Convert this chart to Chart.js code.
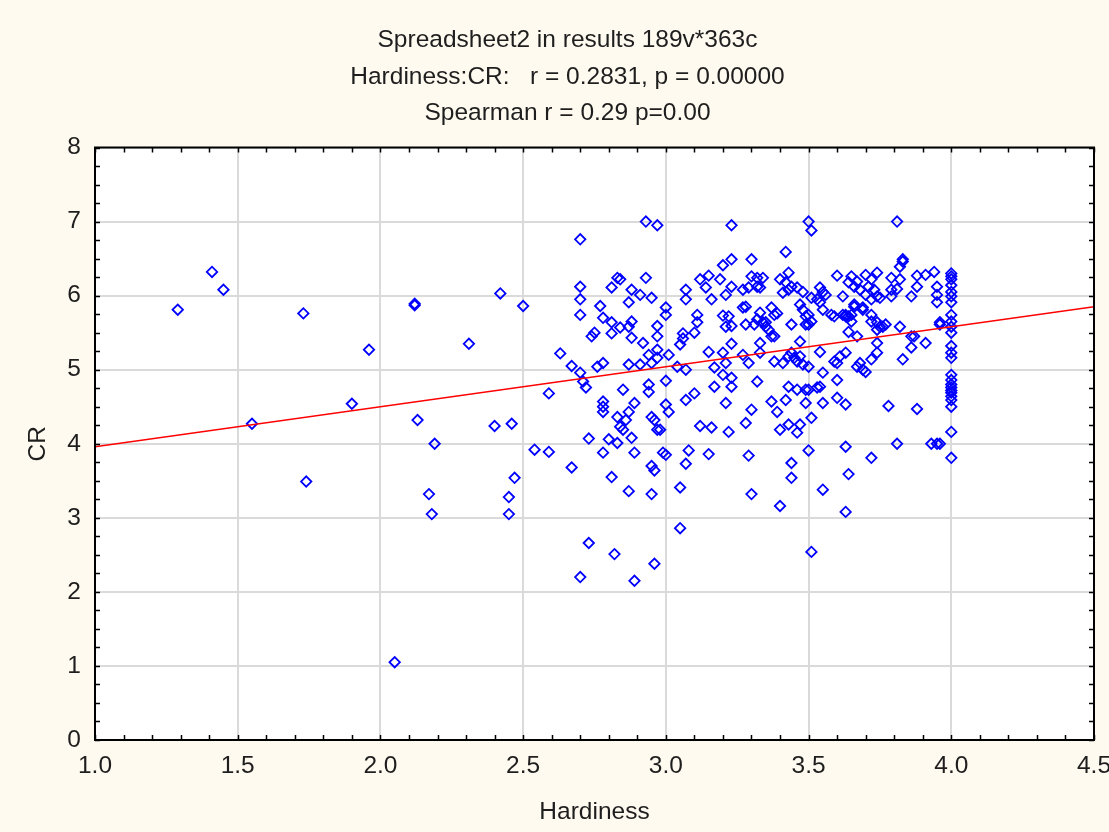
<!DOCTYPE html>
<html>
<head>
<meta charset="utf-8">
<title>Hardiness vs CR</title>
<script src="https://cdn.jsdelivr.net/npm/chart.js@4.4.1/dist/chart.umd.min.js"></script>
<style>
  html, body { margin: 0; padding: 0; background: #fffaf0; }
  #wrap { width: 1109px; height: 832px; }
</style>
</head>
<body>
<div id="wrap"><canvas id="cv" width="1109" height="832"></canvas></div>
<script>
/* Scatter of CR against Hardiness with a fitted line (Statistica-style look). */

const titleLines = [
  "Spreadsheet2 in results 189v*363c",
  "Hardiness:CR:   r = 0.2831, p = 0.00000",
  "Spearman r = 0.29 p=0.00"
];
const xTitle = "Hardiness";
const yTitle = "CR";
const xTicks = [1.0, 1.5, 2.0, 2.5, 3.0, 3.5, 4.0, 4.5];
const yTicks = [0, 1, 2, 3, 4, 5, 6, 7, 8];

// point by point (overlaps are approximate)
const hardness = [
  1.29, 1.41, 1.45, 1.55, 1.73, 1.74, 1.90, 1.96, 2.05, 2.12, 2.12, 2.13, 2.17, 2.18, 2.19, 2.31,
  2.40, 2.42, 2.46, 2.47, 2.45, 2.45, 2.50, 2.54, 2.59, 2.59, 2.63, 2.67, 2.67, 2.70, 2.70, 2.70,
  2.70, 2.70, 2.70, 2.71, 2.72, 2.73, 2.73, 2.74, 2.75, 2.76, 2.77, 2.78, 2.78, 2.78, 2.78, 2.78,
  2.78, 2.80, 2.81, 2.81, 2.81, 2.81, 2.82, 2.83, 2.84, 2.84, 2.83, 2.83, 2.84, 2.85, 2.85, 2.86,
  2.87, 2.87, 2.87, 2.87, 2.87, 2.88, 2.88, 2.88, 2.88, 2.89, 2.89, 2.89, 2.91, 2.91, 2.92, 2.93,
  2.93, 2.94, 2.94, 2.94, 2.95, 2.95, 2.95, 2.95, 2.95, 2.96, 2.96, 2.96, 2.97, 2.97, 2.97, 2.97,
  2.97, 2.97, 2.98, 2.99, 3.00, 3.00, 3.00, 3.00, 3.00, 3.01, 3.01, 3.04, 3.05, 3.05, 3.05, 3.06,
  3.06, 3.07, 3.07, 3.07, 3.07, 3.07, 3.08, 3.10, 3.10, 3.11, 3.11, 3.12, 3.12, 3.14, 3.15, 3.15,
  3.15, 3.16, 3.16, 3.17, 3.17, 3.19, 3.20, 3.20, 3.20, 3.20, 3.21, 3.21, 3.21, 3.21, 3.22, 3.22,
  3.23, 3.23, 3.23, 3.23, 3.23, 3.23, 3.23, 3.27, 3.27, 3.27, 3.28, 3.28, 3.29, 3.29, 3.29, 3.30,
  3.30, 3.30, 3.30, 3.32, 3.34, 3.32, 3.33, 3.28, 3.37, 3.38, 3.39, 3.33, 3.32, 3.34, 3.35, 3.35,
  3.31, 3.37, 3.38, 3.36, 3.43, 3.40, 3.42, 3.44, 3.41, 3.43, 3.46, 3.48, 3.42, 3.50, 3.51, 3.54,
  3.55, 3.56, 3.53, 3.51, 3.54, 3.55, 3.58, 3.59, 3.62, 3.63, 3.65, 3.66, 3.69, 3.47, 3.48, 3.49,
  3.50, 3.51, 3.50, 3.44, 3.49, 3.33, 3.33, 3.38, 3.41, 3.43, 3.44, 3.45, 3.46, 3.47, 3.48, 3.50,
  3.47, 3.54, 3.55, 3.43, 3.32, 3.46, 3.49, 3.50, 3.53, 3.54, 3.60, 3.60, 3.63, 3.49, 3.55, 3.37,
  3.42, 3.39, 3.78, 3.88, 3.40, 3.43, 3.47, 3.46, 3.51, 3.50, 3.63, 3.81, 3.93, 3.95, 3.96, 3.72,
  3.44, 3.44, 3.64, 3.55, 3.40, 3.63, 3.51, 3.60, 3.65, 3.67, 3.70, 3.72, 3.74, 3.64, 3.66, 3.68,
  3.71, 3.73, 3.81, 3.83, 3.83, 3.82, 3.94, 3.91, 3.88, 3.79, 3.82, 3.79, 3.81, 3.88, 3.95, 3.95,
  3.95, 3.96, 3.86, 3.75, 3.74, 3.70, 3.72, 3.79, 3.62, 3.66, 3.69, 3.63, 3.64, 3.65, 3.72, 3.74,
  3.75, 3.76, 3.74, 3.77, 3.72, 3.82, 3.96, 3.64, 3.67, 3.86, 3.87, 3.91, 3.86, 3.83, 3.74, 3.74,
  3.72, 3.63, 3.61, 3.59, 3.60, 3.67, 3.68, 3.70, 3.69,
  4.00, 4.00, 4.00, 4.00, 4.00, 4.00, 4.00, 4.00, 4.00, 4.00, 4.00, 4.00, 4.00, 4.00, 4.00, 4.00,
  4.00, 4.00, 4.00, 4.00, 4.00, 4.00, 4.00, 4.00, 4.00
];
const cr = [
  5.81, 6.32, 6.08, 4.27, 5.76, 3.49, 4.54, 5.27, 1.05, 5.89, 5.87, 4.32, 3.32, 3.05, 4.00, 5.35,
  4.24, 6.03, 4.27, 3.54, 3.28, 3.05, 5.86, 3.92, 3.89, 4.68, 5.22, 5.05, 3.68, 6.76, 6.12, 5.95,
  5.74, 4.96, 2.20, 4.84, 4.76, 2.66, 4.07, 5.45, 5.50, 5.04, 5.86, 5.70, 5.09, 4.57, 4.50, 4.43,
  3.88, 4.06, 6.11, 5.64, 5.49, 3.55, 2.51, 6.24, 6.22, 5.57, 4.36, 4.01, 4.23, 4.19, 4.73, 4.32,
  5.91, 5.58, 5.07, 4.43, 3.36, 6.08, 5.65, 5.43, 4.08, 4.55, 3.88, 2.15, 6.01, 5.07, 5.36, 7.00,
  6.24, 5.20, 4.80, 4.70, 5.97, 5.09, 4.36, 3.70, 3.32, 4.32, 3.64, 2.38, 6.95, 5.59, 5.45, 5.27,
  5.16, 4.19, 4.19, 3.88, 5.84, 5.74, 4.85, 4.53, 3.85, 5.20, 4.43, 5.04, 5.34, 3.41, 2.86, 5.49,
  5.42, 6.08, 5.95, 5.00, 4.59, 3.73, 3.91, 5.50, 4.68, 5.74, 5.64, 6.22, 4.24, 6.11, 6.27, 5.24,
  3.86, 5.95, 4.22, 5.03, 4.77, 6.22, 6.41, 5.73, 5.23, 4.93, 6.01, 5.58, 5.09, 4.55, 5.72, 4.16,
  6.95, 6.49, 6.12, 5.59, 5.35, 4.89, 4.77, 6.08, 5.84, 5.20, 5.61, 4.28, 6.11, 5.09, 3.84, 6.49,
  4.46, 3.32, 6.26, 6.24, 6.24, 6.12, 6.11, 5.85, 5.84, 5.74, 5.76, 5.77, 5.68, 5.64, 5.64, 5.58,
  5.61, 5.45, 5.45, 5.54, 6.31, 6.22, 6.18, 6.12, 6.04, 6.08, 6.11, 6.05, 6.59, 7.00, 6.88, 6.11,
  6.05, 6.01, 5.95, 5.97, 5.91, 5.81, 5.74, 5.72, 5.74, 5.72, 5.74, 5.85, 5.81, 5.88, 5.81, 5.72,
  5.74, 5.65, 5.61, 5.61, 5.61, 5.36, 5.23, 5.11, 5.09, 5.18, 5.23, 5.16, 5.11, 5.18, 5.07, 5.04,
  5.38, 5.24, 4.96, 4.77, 4.84, 4.73, 4.73, 4.73, 4.76, 4.77, 4.86, 4.62, 4.53, 4.55, 4.55, 4.57,
  4.59, 4.43, 4.51, 4.47, 4.19, 4.26, 4.26, 4.15, 4.35, 3.91, 3.96, 4.00, 4.00, 4.00, 4.00, 3.81,
  3.74, 3.54, 3.59, 3.38, 3.16, 3.08, 2.54, 6.27, 6.26, 6.19, 6.28, 6.22, 6.31, 6.18, 6.12, 6.08,
  6.12, 6.08, 7.00, 6.49, 6.46, 6.39, 6.32, 6.28, 6.27, 6.24, 6.22, 6.08, 6.09, 6.12, 6.12, 6.01,
  5.91, 5.61, 5.99, 5.97, 5.99, 6.01, 5.95, 5.99, 5.99, 5.88, 5.84, 5.74, 5.72, 5.65, 5.65, 5.64,
  5.58, 5.58, 5.54, 5.61, 5.74, 5.58, 5.64, 5.51, 5.45, 5.45, 5.45, 5.36, 5.30, 5.14, 5.36, 5.23,
  5.14, 5.23, 5.18, 5.11, 5.09, 5.04, 5.09, 4.97, 5.00,
  6.30, 6.26, 6.22, 6.14, 6.05, 5.99, 5.91, 5.74, 5.65, 5.58, 5.50, 5.32, 5.23, 5.16, 4.93, 4.86,
  4.80, 4.76, 4.72, 4.69, 4.64, 4.59, 4.50, 4.16, 3.81
];

// fitted line end points (x = 1.0 and x = 4.5)
const fitX = [1.0, 4.5];
const fitY = [3.96, 5.85];

const FONT = "'Liberation Sans', Arial, sans-serif";
const INK = "#1e1e1e";
const FS = 24.5;

// white plot area, frame and inward minor ticks on all four sides
const framePlugin = {
  id: "frame",
  beforeDraw(chart) {
    const { ctx, chartArea: a } = chart;
    ctx.save();
    ctx.fillStyle = "#ffffff";
    ctx.fillRect(a.left, a.top, a.right - a.left, a.bottom - a.top);
    ctx.restore();
  },
  afterDraw(chart) {
    const { ctx, chartArea: a, scales } = chart;
    const xs = scales.x, ys = scales.y;
    const tl = 5;
    ctx.save();
    ctx.strokeStyle = "#000";
    ctx.lineWidth = 1.5;
    ctx.beginPath();
    for (let v = xs.min; v <= xs.max + 1e-9; v += 0.1) {
      const px = Math.round(xs.getPixelForValue(v)) + 0.5;
      ctx.moveTo(px, a.bottom); ctx.lineTo(px, a.bottom - tl);
      ctx.moveTo(px, a.top); ctx.lineTo(px, a.top + tl);
    }
    for (let v = ys.min; v <= ys.max + 1e-9; v += 0.25) {
      const py = Math.round(ys.getPixelForValue(v)) + 0.5;
      ctx.moveTo(a.left, py); ctx.lineTo(a.left + tl, py);
      ctx.moveTo(a.right, py); ctx.lineTo(a.right - tl, py);
    }
    ctx.stroke();
    ctx.lineWidth = 2;
    ctx.strokeRect(a.left, a.top, a.right - a.left, a.bottom - a.top);
    ctx.restore();
  }
};

new Chart(document.getElementById("cv"), {
  data: {
    datasets: [
      {
        type: "line",
        label: "fit",
        data: fitX.map((x, i) => ({ x, y: fitY[i] })),
        borderColor: "#ff0000",
        borderWidth: 1.6,
        pointRadius: 0,
        fill: false,
        order: 0
      },
      {
        type: "scatter",
        label: "CR",
        data: hardness.map((x, i) => ({ x, y: cr[i] })),
        pointStyle: "rectRot",
        radius: 5.2,
        borderColor: "#0000ff",
        backgroundColor: "rgba(0,0,0,0)",
        borderWidth: 1.8,
        order: 1
      }
    ]
  },
  options: {
    responsive: false,
    animation: false,
    // left padding shifts the title centre to where the original has it
    layout: { padding: { left: 26, right: 0, top: 0, bottom: 0 } },
    plugins: {
      legend: { display: false },
      tooltip: { enabled: false },
      title: {
        display: true,
        text: titleLines,
        color: INK,
        font: { family: FONT, size: FS, weight: "normal", lineHeight: 36.5 / FS },
        padding: { top: 22, bottom: 16 }
      }
    },
    scales: {
      x: {
        type: "linear",
        min: 1, max: 4.5,
        afterBuildTicks: s => { s.ticks = xTicks.map(v => ({ value: v })); },
        afterFit: s => { s.height = 92; s.paddingRight = 15; },
        ticks: {
          color: INK, padding: 12,
          font: { family: FONT, size: FS },
          callback: v => Number(v).toFixed(1),
          maxRotation: 0, autoSkip: false
        },
        grid: { color: "#dadada", lineWidth: 2, drawTicks: false },
        border: { display: false },
        title: {
          display: true, text: xTitle, color: INK,
          font: { family: FONT, size: FS },
          padding: { top: 0, bottom: 5 }
        }
      },
      y: {
        type: "linear",
        min: 0, max: 8,
        afterBuildTicks: s => { s.ticks = yTicks.map(v => ({ value: v })); },
        afterFit: s => { s.width = 69; },
        ticks: {
          color: INK, padding: 14,
          font: { family: FONT, size: FS },
          autoSkip: false
        },
        grid: { color: "#dadada", lineWidth: 2, drawTicks: false },
        border: { display: false },
        title: {
          display: true, text: yTitle, color: INK,
          font: { family: FONT, size: FS },
          padding: { top: -2, bottom: 0 }
        }
      }
    }
  },
  plugins: [framePlugin]
});
</script>
</body>
</html>
